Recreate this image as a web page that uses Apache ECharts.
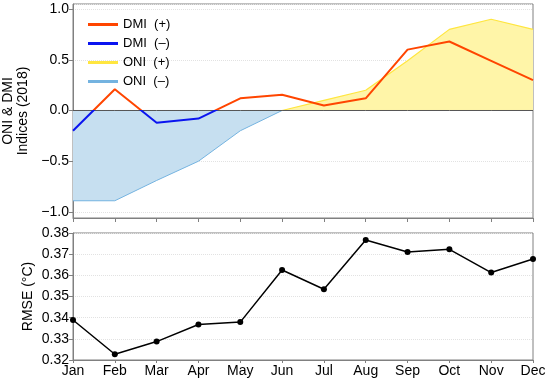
<!DOCTYPE html>
<html>
<head>
<meta charset="utf-8">
<script src="https://cdn.jsdelivr.net/npm/echarts@6/dist/echarts.min.js"></script>
<style>html,body{margin:0;padding:0;background:#fff}#c{width:550px;height:383px}</style>
</head>
<body>
<div id="c"></div>
<script>
const months = ['Jan','Feb','Mar','Apr','May','Jun','Jul','Aug','Sep','Oct','Nov','Dec'];
const dmi = [-0.20, 0.21, -0.12, -0.08, 0.12, 0.155, 0.05, 0.12, 0.60, 0.68, 0.49, 0.30];
const oni = [-0.89, -0.89, -0.69, -0.50, -0.20, 0.00, 0.10, 0.20, 0.49, 0.80, 0.90, 0.80];
const rmse = [0.3389, 0.3227, 0.3287, 0.3368, 0.3379, 0.3625, 0.3534, 0.3767, 0.3710, 0.3723, 0.3613, 0.3677];
const legendNames = ['DMI  (+)', 'DMI  (–)', 'ONI  (+)', 'ONI  (–)'];

const FONT = 'Liberation Sans, Arial, sans-serif';
const C_RED = '#ff4500', C_BLUE = '#0a14f0', C_YEL = '#ffe640', C_LBLUE = '#74b3e0';
const F_YEL = '#fff5a8', F_LBLUE = '#c6dff0';

const oniPos = oni.map(v => v >= 0 ? v : '-');
const oniNeg = oni.map(v => v <= 0 ? v : '-');
const zeroLine = months.map(() => 0);
const blank = months.map(() => '-');

const chart = echarts.init(document.getElementById('c'), null, {renderer: 'canvas'});
const axisTxt = {color: '#000', fontSize: 14, fontFamily: FONT};
const gridLine = {show: true, lineStyle: {color: '#e2e2e2', type: 'dotted', width: 1}};
chart.setOption({
  animation: false,
  textStyle: {fontFamily: FONT},
  grid: [
    {left: 73, right: 17, top: 4, height: 214, show: true, borderColor: '#808080', borderWidth: 1, outerBoundsMode: 'none', containLabel: false},
    {left: 73, right: 17, top: 233, height: 127, show: true, borderColor: '#808080', borderWidth: 1, outerBoundsMode: 'none', containLabel: false}
  ],
  legend: {
    orient: 'vertical', left: 83, top: 13, itemWidth: 30, itemHeight: 3, itemGap: 6,
    icon: 'rect', textStyle: {fontSize: 13, color: '#000', fontFamily: FONT},
    data: [
      {name: legendNames[0], itemStyle: {color: C_RED}},
      {name: legendNames[1], itemStyle: {color: C_BLUE}},
      {name: legendNames[2], itemStyle: {color: C_YEL}},
      {name: legendNames[3], itemStyle: {color: C_LBLUE}}
    ]
  },
  visualMap: {
    type: 'piecewise', show: false, seriesIndex: 3, dimension: 1,
    pieces: [{min: -5, max: 0, color: C_BLUE}, {gt: 0, max: 5, color: C_RED}]
  },
  xAxis: [
    {type: 'category', gridIndex: 0, data: months, boundaryGap: false,
     axisLine: {onZero: false, lineStyle: {color: '#808080'}},
     axisTick: {show: true, length: 4, lineStyle: {color: '#808080'}},
     axisLabel: {show: false}, splitLine: {show: false}},
    {type: 'category', gridIndex: 1, data: months, boundaryGap: false,
     axisLine: {onZero: false, lineStyle: {color: '#808080'}},
     axisTick: {show: true, length: 3, lineStyle: {color: '#808080'}},
     axisLabel: Object.assign({margin: 4}, axisTxt), splitLine: {show: false}}
  ],
  yAxis: [
    {type: 'value', gridIndex: 0, min: -1.06, max: 1.05, splitNumber: 4,
     name: 'ONI & DMI\nIndices (2018)', nameLocation: 'middle', nameGap: 42, nameMoveOverlap: false,
     nameTextStyle: {fontSize: 14, color: '#000', fontFamily: FONT, lineHeight: 15.5},
     axisLine: {show: true, lineStyle: {color: '#808080'}},
     axisTick: {show: true, length: 4, lineStyle: {color: '#808080'}},
     axisLabel: Object.assign({margin: 4, showMinLabel: false, showMaxLabel: false,
       formatter: v => (v < 0 ? '−' : '') + Math.abs(v).toFixed(1)}, axisTxt),
     splitLine: gridLine},
    {type: 'value', gridIndex: 1, min: 0.32, max: 0.38, interval: 0.01,
     name: 'RMSE (°C)', nameLocation: 'middle', nameGap: 38, nameMoveOverlap: false,
     nameTextStyle: {fontSize: 14, color: '#000', fontFamily: FONT},
     axisLine: {show: true, lineStyle: {color: '#808080'}},
     axisTick: {show: true, length: 4, lineStyle: {color: '#808080'}},
     axisLabel: Object.assign({margin: 4, formatter: v => v.toFixed(2)}, axisTxt),
     splitLine: gridLine}
  ],
  series: [
    {name: legendNames[3], type: 'line', xAxisIndex: 0, yAxisIndex: 0, data: oniNeg,
     symbol: 'none', lineStyle: {color: C_LBLUE, width: 1}, itemStyle: {color: C_LBLUE},
     areaStyle: {color: F_LBLUE, opacity: 1}, z: 1},
    {name: legendNames[2], type: 'line', xAxisIndex: 0, yAxisIndex: 0, data: oniPos,
     symbol: 'none', lineStyle: {color: C_YEL, width: 1.2}, itemStyle: {color: C_YEL},
     areaStyle: {color: F_YEL, opacity: 1}, z: 1},
    {name: 'zero', type: 'line', xAxisIndex: 0, yAxisIndex: 0, data: zeroLine,
     symbol: 'none', lineStyle: {color: '#555', width: 1}, itemStyle: {color: '#555'}, z: 2, silent: true},
    {name: legendNames[0], type: 'line', xAxisIndex: 0, yAxisIndex: 0, data: dmi,
     symbol: 'none', lineStyle: {width: 2}, z: 3},
    {name: legendNames[1], type: 'line', xAxisIndex: 0, yAxisIndex: 0, data: blank,
     symbol: 'none', lineStyle: {color: C_BLUE, width: 2}, itemStyle: {color: C_BLUE}},
    {name: 'RMSE', type: 'line', xAxisIndex: 1, yAxisIndex: 1, data: rmse,
     symbol: 'circle', symbolSize: 6, lineStyle: {color: '#000', width: 1.5},
     itemStyle: {color: '#000'}}
  ]
});
</script>
</body>
</html>
